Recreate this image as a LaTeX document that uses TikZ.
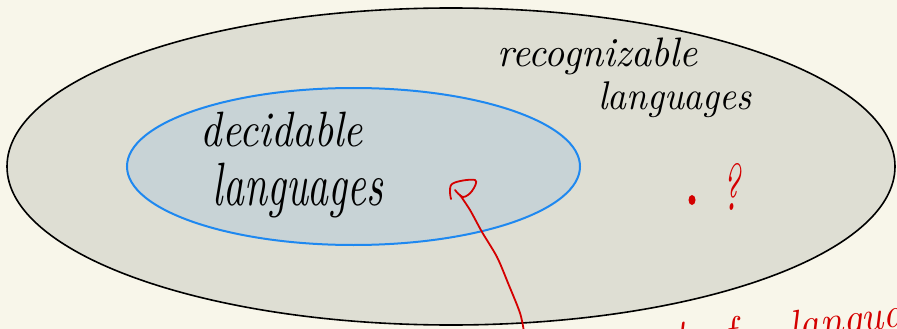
\documentclass[tikz,border=0pt]{standalone}
\usepackage{graphicx}
\definecolor{bgcol}{RGB}{248,246,234}
\definecolor{outerfill}{RGB}{222,222,211}
\definecolor{innerfill}{RGB}{200,211,214}
\definecolor{blueline}{RGB}{30,136,240}
\definecolor{penred}{RGB}{212,0,0}
\tikzset{
  hand/.style={inner sep=0pt, outer sep=0pt, font=\itshape},
  redhand/.style={hand, text=penred},
  cuttext/.style={redhand, anchor=base west, rotate=7, font=\itshape\fontsize{42}{42}\selectfont},
  redpen/.style={draw=penred, line width=1.8pt, line cap=round, line join=round},
  outerset/.style={draw=black, line width=1.6pt, fill=outerfill},
  innerset/.style={draw=blueline, line width=2pt, fill=innerfill}
}
\begin{document}
\begin{tikzpicture}[x=1pt,y=-1pt]
\useasboundingbox (0,0) rectangle (897,329);
\clip (0,0) rectangle (897,329);
\fill[bgcol] (0,0) rectangle (897,329);
% sets
\draw[outerset] (451,166.5) ellipse [x radius=444, y radius=158.5];
\draw[innerset] (353.5,166.5) ellipse [x radius=226.5, y radius=78.5];
% labels
\node[hand] (rec) at (598,56.5) {\resizebox*{200pt}{37pt}{recognizable}};
\node[hand] (reclang) at (675,100) {\resizebox*{154pt}{36pt}{languages}};
\node[hand] (dec) at (282,129.5) {\resizebox*{162pt}{35pt}{decidable}};
\node[hand] (declang) at (298,190.5) {\resizebox*{170pt}{55pt}{languages}};
% red marks
\node[redhand] (qm) at (731,186.5) {\resizebox*{18pt}{47pt}{?}};
\fill[penred] (692,200) ellipse [x radius=3.5, y radius=5];
\coordinate (tip) at (460,195);
\coordinate (tail) at (524,332);
\draw[redpen] plot[smooth, tension=0.6] coordinates {(451,199) (452,184) (475,180) (472,191) (463,197) (455,190)};
\draw[redpen] plot[smooth, tension=0.5] coordinates {(tip) (470,210) (482,232) (497,257) (508,283) (520,313) (tail)};
% bottom-right red text, cut off by the picture edge
\node[cuttext] (settxt) at (640,354) {set};
\node[cuttext] (oftxt) at (705,350) {of};
\node[cuttext] (langtxt) at (790,340) {languages};
\end{tikzpicture}
\end{document}
